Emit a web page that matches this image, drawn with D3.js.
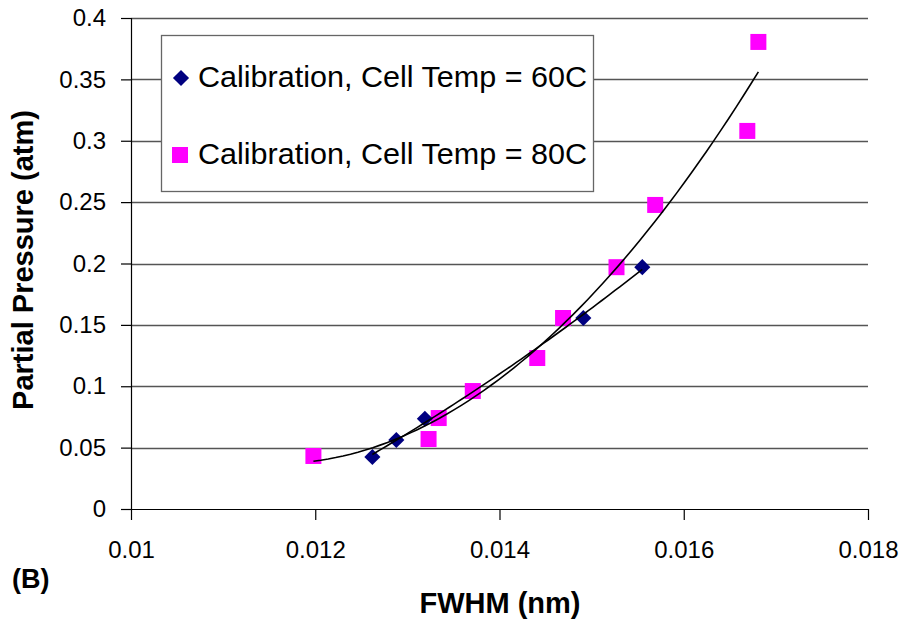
<!DOCTYPE html>
<html>
<head>
<meta charset="utf-8">
<script src="https://cdn.jsdelivr.net/npm/d3@7.9.0/dist/d3.min.js"></script>
<style>
  body { margin: 0; background: #fff; }
  svg { display: block; font-family: "Liberation Sans", Arial, sans-serif; }
</style>
</head>
<body>
<svg id="chart" width="901" height="619"></svg>
<script>
// values
const fwhm60 = [0.01262, 0.01288, 0.01319, 0.01491, 0.01555];
const pres60 = [0.0424, 0.0562, 0.0735, 0.1556, 0.1970];

const fwhm80 = [0.01198, 0.01323, 0.01334, 0.01371, 0.01441, 0.01469, 0.01527, 0.01569, 0.01669, 0.01681];
const pres80 = [0.0432, 0.0570, 0.0741, 0.0961, 0.1230, 0.1556, 0.1970, 0.2477, 0.3080, 0.3805];

const xTicks = [0.01, 0.012, 0.014, 0.016, 0.018];
const yTicks = [0, 0.05, 0.1, 0.15, 0.2, 0.25, 0.3, 0.35, 0.4];

const legendLabels = ['Calibration, Cell Temp = 60C', 'Calibration, Cell Temp = 80C'];

const navy = '#000080';
const magenta = '#ff00ff';

const svg = d3.select('#chart');

const x = d3.scaleLinear().domain([0.01, 0.018]).range([131, 868]);
const y = d3.scaleLinear().domain([0, 0.4]).range([509, 18]);

// second order trendline, least squares like the spreadsheet does
function quadFit(xs, ys) {
  let s = [0, 0, 0, 0, 0], t = [0, 0, 0];
  xs.forEach((xv, i) => {
    for (let k = 0; k < 5; k++) s[k] += Math.pow(xv, k);
    for (let k = 0; k < 3; k++) t[k] += Math.pow(xv, k) * ys[i];
  });
  let m = [
    [s[0], s[1], s[2], t[0]],
    [s[1], s[2], s[3], t[1]],
    [s[2], s[3], s[4], t[2]]
  ];
  for (let c = 0; c < 3; c++) {
    for (let r = c + 1; r < 3; r++) {
      let f = m[r][c] / m[c][c];
      for (let k = c; k < 4; k++) m[r][k] -= f * m[c][k];
    }
  }
  let a = [0, 0, 0];
  for (let r = 2; r >= 0; r--) {
    let v = m[r][3];
    for (let k = r + 1; k < 3; k++) v -= m[r][k] * a[k];
    a[r] = v / m[r][r];
  }
  return (xv) => a[0] + a[1] * xv + a[2] * xv * xv;
}

// gridlines
svg.append('g')
  .selectAll('line')
  .data(yTicks.slice(1))
  .join('line')
  .attr('x1', x(0.01)).attr('x2', x(0.018))
  .attr('y1', (d) => Math.round(y(d)) + 0.5).attr('y2', (d) => Math.round(y(d)) + 0.5)
  .attr('stroke', '#555').attr('stroke-width', 1.3);

// y axis
const yAxis = svg.append('g')
  .attr('transform', `translate(${x(0.01)},0)`)
  .call(d3.axisLeft(y).tickValues(yTicks).tickSize(10).tickPadding(15).tickFormat(d3.format('')));
yAxis.select('.domain').attr('stroke', '#000').attr('stroke-width', 1.2);
yAxis.selectAll('.tick line').attr('stroke', '#000').attr('stroke-width', 1.2);
yAxis.selectAll('.tick text').attr('font-size', 24).attr('fill', '#000');

// x axis
const xAxis = svg.append('g')
  .attr('transform', `translate(0,${y(0)})`)
  .call(d3.axisBottom(x).tickValues(xTicks).tickSize(11).tickSizeOuter(0).tickPadding(21).tickFormat(d3.format('')));
xAxis.select('.domain').attr('stroke', '#000').attr('stroke-width', 1.2);
xAxis.selectAll('.tick line').attr('stroke', '#000').attr('stroke-width', 1.2);
xAxis.selectAll('.tick text').attr('font-size', 24).attr('fill', '#000');

// trendlines
function drawTrend(xs, ys) {
  const f = quadFit(xs, ys);
  const lo = d3.min(xs), hi = d3.max(xs);
  const pts = d3.range(0, 61).map((i) => lo + (hi - lo) * i / 60);
  svg.append('path')
    .datum(pts)
    .attr('fill', 'none')
    .attr('stroke', '#000')
    .attr('stroke-width', 1.6)
    .attr('d', d3.line().x((d) => x(d)).y((d) => y(f(d))));
}

// markers
const diamond = d3.symbol().type(d3.symbolSquare).size(130);

svg.append('g')
  .selectAll('rect')
  .data(fwhm80.map((d, i) => [d, pres80[i]]))
  .join('rect')
  .attr('x', (d) => x(d[0]) - 8).attr('y', (d) => y(d[1]) - 8)
  .attr('width', 16).attr('height', 16)
  .attr('fill', magenta);

svg.append('g')
  .selectAll('path')
  .data(fwhm60.map((d, i) => [d, pres60[i]]))
  .join('path')
  .attr('d', diamond)
  .attr('transform', (d) => `translate(${x(d[0])},${y(d[1])}) rotate(45)`)
  .attr('fill', navy);

drawTrend(fwhm60, pres60);
drawTrend(fwhm80, pres80);

// legend
const legend = svg.append('g');
legend.append('rect')
  .attr('x', 161.5).attr('y', 35.5).attr('width', 432).attr('height', 156)
  .attr('fill', '#fff').attr('stroke', '#666').attr('stroke-width', 1.3);
legend.append('path')
  .attr('d', diamond)
  .attr('transform', 'translate(181,78) rotate(45)')
  .attr('fill', navy);
legend.append('rect')
  .attr('x', 172).attr('y', 147).attr('width', 16).attr('height', 16)
  .attr('fill', magenta);
legend.selectAll('text')
  .data(legendLabels)
  .join('text')
  .attr('x', 198)
  .attr('y', (d, i) => i === 0 ? 87 : 164)
  .attr('font-size', 29)
  .attr('textLength', 389)
  .attr('lengthAdjust', 'spacingAndGlyphs')
  .attr('fill', '#000')
  .text((d) => d);

// titles
svg.append('text')
  .attr('x', 500).attr('y', 613)
  .attr('text-anchor', 'middle')
  .attr('font-size', 29).attr('font-weight', 'bold')
  .text('FWHM (nm)');

svg.append('text')
  .attr('transform', 'translate(33,260) rotate(-90)')
  .attr('text-anchor', 'middle')
  .attr('font-size', 29).attr('font-weight', 'bold')
  .text('Partial Pressure (atm)');

svg.append('text')
  .attr('x', 12).attr('y', 588)
  .attr('font-size', 27).attr('font-weight', 'bold')
  .text('(B)');
</script>
</body>
</html>
